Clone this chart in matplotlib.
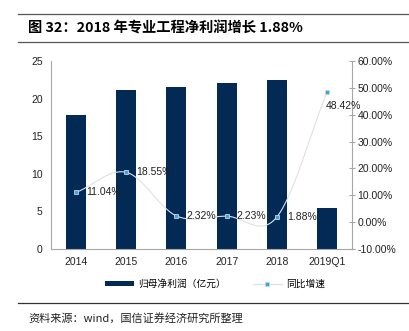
import numpy as np
import matplotlib.pyplot as plt
from matplotlib.lines import Line2D
from matplotlib.patches import Patch

plt.rcParams['font.family'] = ['Liberation Sans', 'Noto Sans CJK SC', 'DejaVu Sans']

# -----------------------------
# data
# -----------------------------
years = ['2014', '2015', '2016', '2017', '2018', '2019Q1']
profit = [17.8, 21.1, 21.6, 22.1, 22.5, 5.5]          # 归母净利润 (亿元)
growth = [11.04, 18.55, 2.32, 2.23, 1.88, 48.42]      # 同比增速 (%)
growth_labels = ['11.04%', '18.55%', '2.32%', '2.23%', '1.88%', '48.42%']

bar_color = '#022a55'
line_color = '#dde1e7'
marker_color = '#3aa6e0'
axis_color = '#a6a6a6'


def catmull_rom(x, y, n=30):
    # smooth curve through the points (Excel-like smoothed line)
    x = np.asarray(x, float)
    y = np.asarray(y, float)
    px = np.concatenate([[2 * x[0] - x[1]], x, [2 * x[-1] - x[-2]]])
    py = np.concatenate([[2 * y[0] - y[1]], y, [2 * y[-1] - y[-2]]])
    xs, ys = [], []
    t = np.linspace(0, 1, n)
    for i in range(1, len(px) - 2):
        for p, out in ((px, xs), (py, ys)):
            p0, p1, p2, p3 = p[i - 1], p[i], p[i + 1], p[i + 2]
            out.extend(0.5 * (2 * p1 + (-p0 + p2) * t
                              + (2 * p0 - 5 * p1 + 4 * p2 - p3) * t ** 2
                              + (-p0 + 3 * p1 - 3 * p2 + p3) * t ** 3))
    return np.array(xs), np.array(ys)


fig = plt.figure(figsize=(4.09, 3.31), dpi=100)

# header and footer rules
fig.add_artist(Line2D([18 / 409, 1], [1 - 14 / 331] * 2, color='#555555', lw=0.9))
fig.add_artist(Line2D([18 / 409, 1], [1 - 42 / 331] * 2, color='#555555', lw=0.9))
fig.add_artist(Line2D([18 / 409, 1], [1 - 303 / 331] * 2, color='#333333', lw=0.9))
fig.text(28 / 409, 1 - 28 / 331, '图 32：2018 年专业工程净利润增长 1.88%',
         fontsize=10.3, fontweight='bold', va='center', ha='left',
         family=['Noto Sans CJK SC', 'DejaVu Sans'])
fig.text(28 / 409, 1 - 318 / 331, '资料来源：wind，国信证券经济研究所整理',
         fontsize=8, va='center', ha='left', color='#222222',
         family=['Noto Sans CJK SC', 'DejaVu Sans'])

ax = fig.add_axes([51 / 409, 1 - 249 / 331, 301 / 409, 188 / 331])
x = np.arange(len(years))
ax.bar(x, profit, width=0.4, color=bar_color, zorder=2)
ax.set_ylim(0, 25)
ax.set_yticks(np.arange(0, 26, 5))
ax.set_xlim(-0.5, len(years) - 0.5)
ax.set_xticks(x)
ax.set_xticklabels(years)
for s in ['top', 'right']:
    ax.spines[s].set_visible(False)
for s in ['left', 'bottom']:
    ax.spines[s].set_color(axis_color)
ax.tick_params(axis='both', length=0, labelsize=7.5, colors='#222222', pad=6)

ax2 = ax.twinx()
cx, cy = catmull_rom(x, growth)
ax2.plot(cx, cy, color=line_color, lw=0.8, zorder=3)
ax2.plot(x, growth, ls='none', marker='s', ms=3.5, mfc=marker_color,
         mec='#c8d3dd', mew=0.6, zorder=4)
for i, (xi, g, lab) in enumerate(zip(x, growth, growth_labels)):
    if i == len(x) - 1:
        ax2.text(xi - 0.03, g - 5.2, lab, fontsize=7.5, ha='left', va='center', color='#222222')
    else:
        ax2.text(xi + 0.2, g, lab, fontsize=7.5, ha='left', va='center', color='#222222')
ax2.set_ylim(-10, 60)
ax2.set_yticks(np.arange(-10, 61, 10))
ax2.set_yticklabels([f'{v:.2f}%' for v in np.arange(-10, 61, 10)])
for s in ['top', 'left', 'bottom']:
    ax2.spines[s].set_visible(False)
ax2.spines['right'].set_color(axis_color)
ax2.tick_params(axis='y', direction='inout', length=4, color=axis_color,
                labelsize=7.5, colors='#222222', pad=2)

handles = [Patch(facecolor=bar_color, label='归母净利润（亿元）'),
           Line2D([], [], color=line_color, lw=0.9, marker='s', ms=3.5,
                  mfc=marker_color, mec='#c8d3dd', mew=0.6, label='同比增速')]
fig.legend(handles=handles, loc='center', bbox_to_anchor=(0.525, 1 - 284 / 331),
           ncol=2, frameon=False, handlelength=3.0, handleheight=0.4,
           handletextpad=0.4, columnspacing=2.8,
           prop={'family': ['Noto Sans CJK SC', 'DejaVu Sans'], 'size': 7})

plt.savefig('out.png', dpi=100)
